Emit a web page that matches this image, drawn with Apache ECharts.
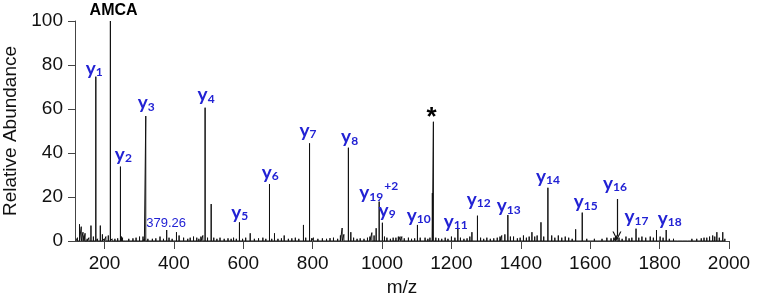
<!DOCTYPE html>
<html>
<head>
<meta charset="utf-8">
<script src="https://cdn.jsdelivr.net/npm/echarts@6/dist/echarts.min.js"></script>
<style>
  html, body { margin: 0; padding: 0; background: #fff; }
  #main { width: 762px; height: 294px; }
</style>
</head>
<body>
<div id="main"></div>
<script>
// peak list (m/z, relative abundance)
const peakMz = [
  118, 122, 128, 133, 138, 141, 144, 150, 155, 161, 168, 175, 180, 188, 194, 199, 204, 211, 217, 222,
  230, 238, 246, 249, 252, 260, 270, 282, 291, 301, 311, 315, 319, 325, 338, 348, 360, 370, 379.26, 386,
  395, 407.5, 415, 428, 440, 447, 456.6, 466, 472, 478, 483.5, 490, 497, 507.5, 515, 524, 533, 545, 556, 565,
  572, 580, 589, 598, 607, 620, 632, 644, 656.5, 665, 675.6, 682, 690, 700, 710, 718, 730, 740, 750, 760,
  773.5, 780, 791, 797, 802, 815, 828, 840, 850, 860, 872, 880, 885, 890, 903, 910, 918, 928, 937, 948,
  958, 965, 970.6, 977, 983, 991.7, 1001, 1007, 1014, 1024, 1032, 1040, 1047, 1052, 1057, 1064, 1076, 1085, 1094, 1102,
  1110, 1124, 1132, 1138, 1145, 1148, 1155, 1163, 1172, 1182, 1190, 1200, 1210, 1218.5, 1226, 1236, 1245, 1253, 1259, 1275,
  1284, 1293, 1302, 1312, 1322, 1332, 1340, 1345, 1354, 1362.6, 1370, 1379, 1390, 1398, 1407.6, 1416, 1424, 1432, 1440, 1447,
  1458, 1466, 1478, 1489, 1498, 1508, 1518, 1528, 1538, 1548, 1558, 1577, 1590, 1600, 1612, 1622, 1634, 1648, 1660, 1668,
  1673, 1677, 1683, 1692, 1703, 1712, 1720, 1732, 1740, 1749, 1760, 1773, 1782, 1791, 1801.5, 1810, 1819, 1828, 1840, 1852,
  1865, 1880, 1893, 1907, 1920, 1928, 1936, 1944, 1953, 1959, 1965, 1972, 1982, 1988
];
const peakAb = [
  0.8, 1.5, 7.6, 6.5, 4, 2.5, 3.5, 1, 1.5, 7, 2, 74.7, 1, 7, 3, 1, 2, 2.5, 100, 1,
  1, 1.2, 33.8, 2, 1.5, 0.8, 1, 1.2, 1.5, 2, 2, 1, 56.8, 1, 1, 1.2, 2, 1, 5, 1.5,
  1, 4, 2.5, 1.5, 1, 1.5, 2, 1.5, 1, 2, 2.5, 60.6, 1.5, 16.8, 1.5, 1, 1.5, 1, 1.2, 1,
  1.5, 1, 8.5, 1, 1.5, 3.5, 1, 1.2, 1.5, 1, 25.9, 1, 3.5, 1, 1.2, 2.5, 1, 1.2, 1.5, 1,
  7.3, 1.5, 44.4, 1.2, 1.5, 1, 1.2, 1, 1.3, 1.5, 1, 2.5, 5.9, 3, 42.4, 4, 1.5, 1, 1.2, 1,
  1.5, 2, 3.8, 2.5, 5.8, 17.9, 8.3, 2, 1.5, 1, 1.5, 1.5, 2, 2, 2, 1.2, 1.5, 1, 1.2, 7.3,
  1.5, 1.5, 1, 1.5, 21.8, 54.2, 1.5, 1.2, 1, 1.5, 1, 2, 1.5, 5.8, 1.5, 1, 1.2, 2, 4, 11.5,
  1.5, 1, 1.5, 1, 1.2, 1.5, 2, 2.5, 3, 11.8, 2, 2, 1.2, 1.5, 2.5, 1.5, 2, 4, 2, 2.5,
  8.5, 2, 24.2, 2.5, 1.5, 2.5, 1.5, 2, 1.5, 1, 5.3, 12.9, 1, 0.8, 1, 0.8, 1, 1.5, 1.2, 1.5,
  2, 2.5, 1.5, 1, 2, 1.2, 1.5, 5.6, 1.5, 2, 1.5, 2, 1.5, 5, 2, 1.5, 5, 1, 1, 0.8,
  0.8, 0.8, 1, 1, 1.2, 1.5, 1.5, 2, 2.5, 2, 4, 1.5, 4, 1
];

// annotated peaks
const ionNames = ['AMCA', 'y1', 'y2', 'y3', '379.26', 'y4', 'y5', 'y6', 'y7', 'y8', 'y19+2', 'y9', 'y10', '*',
  'y11', 'y12', 'y13', 'y14', 'y15', 'y16', 'y17', 'y18'];
const ionMz = [217, 175, 246, 319, 379.26, 490, 589, 675.6, 791, 903, 991.7, 1001, 1102, 1148,
  1218.5, 1275, 1362.6, 1478, 1577, 1677, 1732, 1819];
const ionAb = [100, 74.7, 33.8, 56.8, 5, 60.6, 8.5, 25.9, 44.4, 42.4, 17.9, 8.3, 7.3, 54.2,
  5.8, 11.5, 11.8, 24.2, 12.9, 2.5, 5.6, 5];

const xTicks = [200, 400, 600, 800, 1000, 1200, 1400, 1600, 1800, 2000];

// y16 arrow (m/z, from, to)
const arrowMz = 1677;
const arrowFrom = 19.1;
const arrowTo = 2.3;

const blue = '#2222d4';
const axisFont = 'Liberation Sans, Arial, sans-serif';
const labelFont = 'Lato, sans-serif';

// label placement relative to the peak top, px
const labelOffset = {
  'AMCA': [3.7, -17.7], 'y1': [-1.2, -20.9], 'y2': [3.4, -24.9], 'y3': [1, -25.8], '379.26': [0, -13],
  'y4': [1.5, -25.4], 'y5': [0.7, -22.5], 'y6': [1.2, -24.4], 'y7': [-1, -25.3], 'y8': [1.7, -23.4],
  'y19+2': [0, -21.4], 'y9': [5.2, -25.1], 'y10': [1.7, -22.4], '*': [-1.3, -16], 'y11': [-1.7, -19.2],
  'y12': [1.7, -28.9], 'y13': [1.3, -21.9], 'y14': [0.6, -24.2], 'y15': [4, -23.4], 'y16': [-1.5, -64.4],
  'y17': [1, -24.5], 'y18': [4, -24]
};

const richText = (name) => {
  if (name === 'AMCA') return '{amca|AMCA}';
  if (name === '*') return '{star|*}';
  if (name === '379.26') return '{mass|379.26}';
  if (name === 'y19+2') return '{y|y}{sub|19}{sup|+2}';
  return '{y|y}{sub|' + name.slice(1) + '}';
};

// stick spectrum: each peak drawn up from the baseline and back
const stickData = [];
peakMz.forEach((mz, i) => {
  stickData.push([mz, 0], [mz, peakAb[i]], [mz, 0]);
});

const labelData = ionNames.map((name, i) => ({
  name: name,
  value: [ionMz[i], ionAb[i]],
  label: { offset: labelOffset[name] }
}));

let option = {
  animation: false,
  backgroundColor: '#fff',
  grid: { left: 75, right: 33, top: 21, bottom: 53, outerBoundsMode: 'none' },
  xAxis: {
    type: 'value',
    min: 115,
    max: 2000,
    name: 'm/z',
    nameLocation: 'middle',
    nameGap: 30,
    nameTextStyle: { fontFamily: axisFont, fontSize: 19, color: '#111' },
    axisLine: { lineStyle: { color: '#444', width: 1 } },
    axisTick: { show: true, length: 8, customValues: xTicks, lineStyle: { color: '#444' } },
    axisLabel: {
      customValues: xTicks,
      formatter: (v) => String(v),
      fontFamily: axisFont, fontSize: 19, color: '#111', margin: 13
    },
    splitLine: { show: false }
  },
  yAxis: {
    type: 'value',
    min: 0,
    max: 100,
    interval: 20,
    name: 'Relative Abundance',
    nameLocation: 'middle',
    nameGap: 52,
    nameTextStyle: { fontFamily: axisFont, fontSize: 19, color: '#111' },
    axisLine: { show: true, lineStyle: { color: '#444', width: 1 } },
    axisTick: { show: true, length: 7, lineStyle: { color: '#444' } },
    axisLabel: { fontFamily: axisFont, fontSize: 19, color: '#111', margin: 12 },
    splitLine: { show: false }
  },
  series: [
    {
      name: 'spectrum',
      type: 'line',
      data: stickData,
      symbol: 'none',
      lineStyle: { color: '#111', width: 1 },
      z: 2
    },
    {
      name: 'labels',
      type: 'scatter',
      data: labelData,
      symbolSize: 1,
      itemStyle: { color: 'rgba(0,0,0,0)' },
      z: 3,
      label: {
        show: true,
        position: [0, 0],
        align: 'center',
        verticalAlign: 'top',
        color: blue,
        opacity: 1,
        textBorderWidth: 0,
        formatter: (p) => richText(p.name),
        rich: {
          y: { fontFamily: labelFont, fontWeight: 'bold', fontSize: 19, verticalAlign: 'top', padding: [4, 0, 0, 0], color: blue, textBorderWidth: 0 },
          sub: { fontFamily: labelFont, fontWeight: 'bold', fontSize: 12, verticalAlign: 'top', padding: [11, 0, 0, 0], color: blue, textBorderWidth: 0 },
          sup: { fontFamily: labelFont, fontWeight: 'bold', fontSize: 12, verticalAlign: 'top', padding: [0, 0, 0, 1], color: blue, textBorderWidth: 0 },
          amca: { fontFamily: axisFont, fontWeight: 900, fontSize: 16, lineHeight: 16, verticalAlign: 'top', color: '#000', textBorderWidth: 0 },
          star: { fontFamily: axisFont, fontWeight: 'bold', fontSize: 26, lineHeight: 26, verticalAlign: 'top', color: '#000', textBorderWidth: 0 },
          mass: { fontFamily: axisFont, fontSize: 13, lineHeight: 13, verticalAlign: 'top', color: blue, textBorderWidth: 0 }
        }
      },
      markLine: {
        silent: true,
        symbol: ['none', 'path://M0,10 L5,0 L10,10 L8.6,10 L5,2.8 L1.4,10 Z'],
        symbolSize: [9, 9],
        label: { show: false },
        lineStyle: { color: '#111', width: 1.2, type: 'solid' },
        data: [[{ coord: [arrowMz, arrowFrom] }, { coord: [arrowMz, arrowTo] }]]
      }
    }
  ]
};

let myChart = echarts.init(document.getElementById('main'));
myChart.setOption(option);
</script>
</body>
</html>
